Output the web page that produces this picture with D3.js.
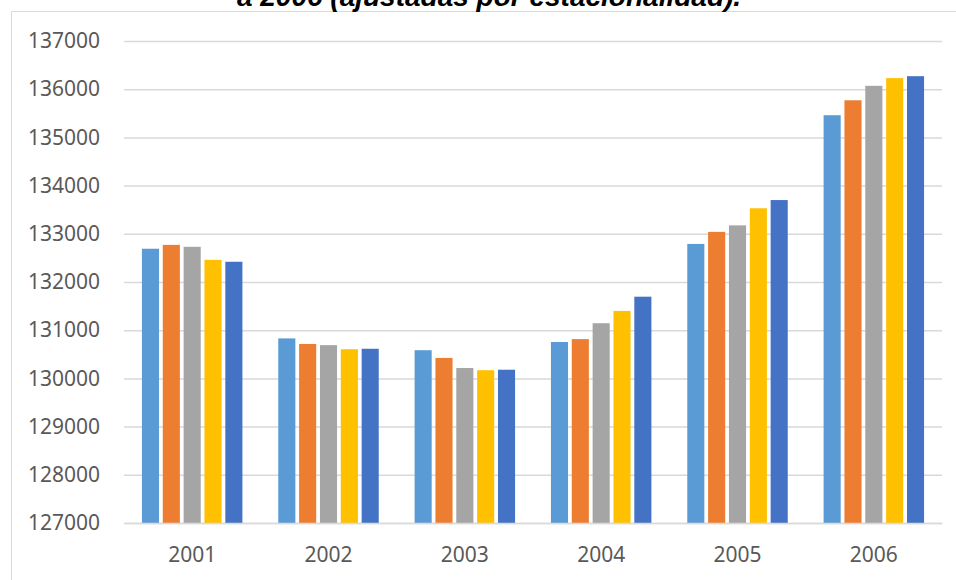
<!DOCTYPE html>
<html>
<head>
<meta charset="utf-8">
<script src="https://cdn.jsdelivr.net/npm/d3@7"></script>
<style>
  body { margin: 0; background: #fff; }
  svg { display: block; }
</style>
</head>
<body>
<script>
// data
const years = ["2001", "2002", "2003", "2004", "2005", "2006"];
const seriesNames = ["s1", "s2", "s3", "s4", "s5"];
const s1 = [132690, 130830, 130585, 130755, 132790, 135460];
const s2 = [132770, 130715, 130425, 130815, 133040, 135770];
const s3 = [132730, 130690, 130215, 131145, 133175, 136070];
const s4 = [132460, 130605, 130170, 131400, 133530, 136230];
const s5 = [132420, 130615, 130180, 131695, 133700, 136270];
const yTicks = [127000, 128000, 129000, 130000, 131000, 132000, 133000, 134000, 135000, 136000, 137000];
const colors = ["#5B9BD5", "#ED7D31", "#A5A5A5", "#FFC000", "#4472C4"];
const title = "a 2006 (ajustadas por estacionalidad).";

const series = [s1, s2, s3, s4, s5];

var w = 956, h = 580;
var svg = d3.select("body").append("svg")
  .attr("width", w)
  .attr("height", h);

// chart frame (runs off the right / bottom of the picture)
svg.append("path")
  .attr("d", "M11.5," + h + "V11.5H" + w)
  .attr("fill", "none")
  .attr("stroke", "#d9d9d9")
  .attr("stroke-width", 1);

// title, mostly cut off at the top like in the original
svg.append("text")
  .attr("x", 489)
  .attr("y", 6)
  .attr("text-anchor", "middle")
  .style("font-family", "'Liberation Sans', Arial, sans-serif")
  .style("font-weight", "bold")
  .style("font-style", "italic")
  .style("font-size", "28px")
  .attr("fill", "#000")
  .text(title);

var x0 = d3.scaleBand()
  .domain(years)
  .range([124, 942])
  .paddingInner(0.263)
  .paddingOuter(0.1315);

var x1 = d3.scaleBand()
  .domain(seriesNames)
  .range([0, x0.bandwidth()])
  .paddingInner(0.18);

var y = d3.scaleLinear()
  .domain([127000, 137000])
  .range([523, 41]);

// gridlines
var yAxis = d3.axisLeft(y)
  .tickValues(yTicks)
  .tickSize(-(942 - 124))
  .tickPadding(24)
  .tickFormat(d3.format("d"));

var gy = svg.append("g")
  .attr("transform", "translate(124,0)")
  .call(yAxis);
gy.select(".domain").remove();
gy.selectAll(".tick line")
  .attr("stroke", "#d9d9d9")
  .attr("stroke-width", 1.5);
gy.selectAll(".tick text")
  .attr("fill", "#595959")
  .style("font-family", "'Noto Sans', sans-serif")
  .style("font-size", "21px");

// bars
var groups = svg.append("g").selectAll("g")
  .data(years)
  .enter().append("g")
  .attr("transform", function(d) { return "translate(" + x0(d) + ",0)"; });

groups.selectAll("rect")
  .data(function(d, i) {
    return series.map(function(s, k) { return { key: seriesNames[k], value: s[i], k: k }; });
  })
  .enter().append("rect")
  .attr("x", function(d) { return x1(d.key); })
  .attr("width", x1.bandwidth())
  .attr("y", function(d) { return y(d.value); })
  .attr("height", function(d) { return y(127000) - y(d.value); })
  .attr("fill", function(d) { return colors[d.k]; });

// category axis
var xAxis = d3.axisBottom(x0).tickSize(0).tickPadding(24);
var gx = svg.append("g")
  .attr("transform", "translate(0," + y(127000) + ")")
  .call(xAxis);
gx.select(".domain")
  .attr("stroke", "#d9d9d9")
  .attr("stroke-width", 1.5);
gx.selectAll(".tick text")
  .attr("fill", "#595959")
  .style("font-family", "'Noto Sans', sans-serif")
  .style("font-size", "21px");
</script>
</body>
</html>
